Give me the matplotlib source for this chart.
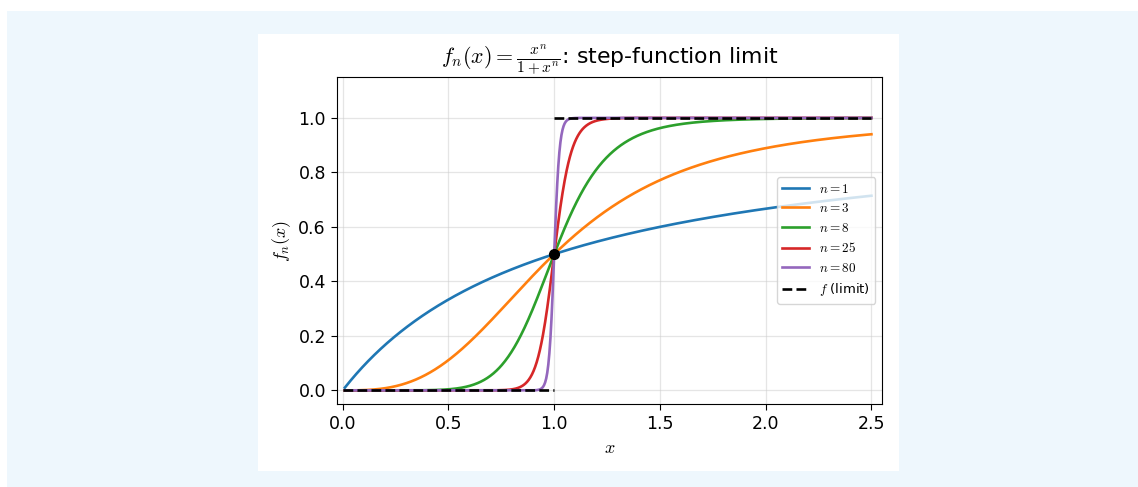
import numpy as np
import matplotlib
matplotlib.use("Agg")
import matplotlib.pyplot as plt
from matplotlib.patches import Rectangle

plt.rcParams["mathtext.fontset"] = "cm"

# exponents shown in the chart
n_values = [1, 3, 8, 25, 80]
colors = ["#1f77b4", "#ff7f0e", "#2ca02c", "#d62728", "#9467bd"]
x_start, x_end = 0.01, 2.5
limit_x_low = [0.0, 1.0]
limit_y_low = [0.0, 0.0]
limit_x_high = [1.0, 2.5]
limit_y_high = [1.0, 1.0]
point_x, point_y = [1.0], [0.5]
x_ticks = [0.0, 0.5, 1.0, 1.5, 2.0, 2.5]
y_ticks = [0.0, 0.2, 0.4, 0.6, 0.8, 1.0]

W, H = 1138, 487
fig = plt.figure(figsize=(W / 100, H / 100), dpi=100, facecolor="white")

# light blue page area and white card behind the plot
fig.patches.append(Rectangle((7 / W, 0), (W - 7) / W, (H - 11) / H,
                             transform=fig.transFigure, facecolor="#eef7fd",
                             edgecolor="none", zorder=-20))
fig.patches.append(Rectangle((258 / W, 1 - 471 / H), 641 / W, 437 / H,
                             transform=fig.transFigure, facecolor="white",
                             edgecolor="none", zorder=-10))

ax = fig.add_axes([337 / W, 1 - 404 / H, 545 / W, 327 / H])

x = np.linspace(x_start, x_end, 1000)
for n, c in zip(n_values, colors):
    y = x ** n / (1 + x ** n)
    ax.plot(x, y, color=c, lw=1.9, label=rf"$n={n}$")

ax.plot(limit_x_low, limit_y_low, "k--", lw=1.9, label=r"$f$ (limit)")
ax.plot(limit_x_high, limit_y_high, "k--", lw=1.9)
ax.plot(point_x, point_y, "o", color="black", ms=7, zorder=5)

ax.set_xlim(-0.027, 2.55)
ax.set_ylim(-0.05, 1.15)
ax.set_xticks(x_ticks)
ax.set_yticks(y_ticks)
ax.tick_params(labelsize=12.5, length=4.5)
ax.grid(True, color="#cccccc", alpha=0.5, lw=0.9)

ax.set_xlabel(r"$x$", fontsize=13)
ax.set_ylabel(r"$f_n(x)$", fontsize=13)
ax.set_title(r"$f_n(x)=\frac{x^n}{1+x^n}$: step-function limit", fontsize=15.8)
ax.legend(loc="center right", fontsize=9.5)

fig.savefig("out.png", dpi=100, facecolor=fig.get_facecolor())
